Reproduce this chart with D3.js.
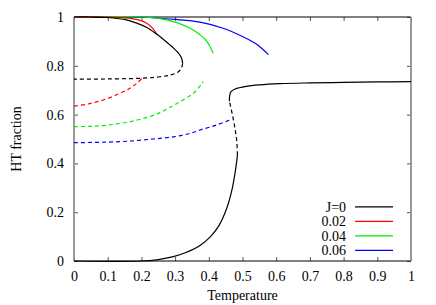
<!DOCTYPE html>
<html lang="en">
<head>
    <meta charset="UTF-8">
    <title>HT fraction</title>
    <script src="https://d3js.org/d3.v7.min.js"></script>
    <style>
        body { margin: 0; background: #fff; }
        svg text { font-family: "Liberation Serif", "DejaVu Serif", serif !important; font-size: 14px; fill: #000; }
    </style>
</head>
<body>
<div id="main"></div>
<script>
    // data: [temperature, HT fraction]
    const legendLabels = ["J=0", "0.02", "0.04", "0.06"]
    const colors = ["#000000", "#ff0000", "#00ee00", "#0000ff"]
    const xTicks = [0, 0.1, 0.2, 0.3, 0.4, 0.5, 0.6, 0.7, 0.8, 0.9, 1]
    const yTicks = [0, 0.2, 0.4, 0.6, 0.8, 1]

    // J=0
    const j0Stable = [[0, 1], [0.05, 1], [0.1, 0.998], [0.15, 0.99], [0.186, 0.975], [0.216, 0.957], [0.245, 0.93],
        [0.27, 0.903], [0.292, 0.877], [0.31, 0.852], [0.319, 0.832], [0.3225, 0.81]]
    const j0Unstable = [[0.3225, 0.81], [0.318, 0.788], [0.308, 0.774], [0.285, 0.762], [0.25, 0.754], [0.2, 0.749],
        [0.1, 0.746], [0, 0.745]]
    const j0Low = [[0, 0], [0.2, 0], [0.25, 0.006], [0.295, 0.018], [0.33, 0.034], [0.374, 0.064], [0.405, 0.1],
        [0.43, 0.145], [0.453, 0.215], [0.47, 0.3], [0.48, 0.38], [0.485, 0.434]]
    const j0Middle = [[0.485, 0.434], [0.483, 0.49], [0.478, 0.54], [0.47, 0.6], [0.461, 0.655]]
    const j0High = [[0.461, 0.655], [0.462, 0.678], [0.466, 0.694], [0.478, 0.705], [0.512, 0.716], [0.55, 0.722],
        [0.611, 0.727], [0.7, 0.73], [0.8, 0.732], [0.9, 0.734], [1, 0.735]]

    // J=0.02
    const j2Stable = [[0, 1], [0.1, 1], [0.15, 0.997], [0.186, 0.99], [0.216, 0.974], [0.235, 0.951], [0.247, 0.926]]
    const j2Unstable = [[0, 0.635], [0.04, 0.643], [0.087, 0.66], [0.136, 0.687], [0.166, 0.708], [0.186, 0.728],
        [0.206, 0.755]]

    // J=0.04
    const j4Stable = [[0, 1], [0.2, 1], [0.25, 0.994], [0.294, 0.981], [0.315, 0.972], [0.354, 0.947],
        [0.374, 0.927], [0.392, 0.904], [0.404, 0.878], [0.413, 0.851]]
    const j4Unstable = [[0, 0.551], [0.05, 0.552], [0.1, 0.557], [0.166, 0.571], [0.22, 0.59], [0.255, 0.608],
        [0.285, 0.63], [0.315, 0.653], [0.354, 0.687], [0.384, 0.735]]

    // J=0.06
    const j6Stable = [[0, 1], [0.2, 0.999], [0.3, 0.99], [0.374, 0.979], [0.44, 0.955], [0.5, 0.92], [0.54, 0.89],
        [0.56, 0.868], [0.577, 0.846]]
    const j6Unstable = [[0, 0.485], [0.136, 0.489], [0.235, 0.5], [0.3, 0.51], [0.344, 0.523], [0.374, 0.537],
        [0.42, 0.556], [0.463, 0.578]]

    let margin = {top: 17, right: 25, bottom: 44, left: 74},
        W = 436, H = 305,
        width = W - margin.left - margin.right,
        height = H - margin.top - margin.bottom;

    const serif = '"Liberation Serif", "DejaVu Serif", serif'

    let svg = d3.select("#main")
        .append("svg")
        .attr("width", W)
        .attr("height", H)

    let chart = svg.append("g")
        .attr("transform", "translate(" + margin.left + "," + margin.top + ")");

    let XScale = d3.scaleLinear().domain([0, 1]).range([0, width])
    let YScale = d3.scaleLinear().domain([0, 1]).range([height, 0])

    // axes: inward ticks on all four sides
    let fmt = d => d === 0 || d === 1 ? String(d) : d3.format(".1f")(d)

    chart.append("g").attr("transform", `translate(0, ${height})`)
        .call(d3.axisBottom(XScale).tickValues(xTicks).tickFormat(fmt).tickSizeInner(-4).tickSizeOuter(0).tickPadding(10))
        .call(g => g.select(".domain").remove())
    chart.append("g")
        .call(d3.axisTop(XScale).tickValues(xTicks).tickFormat("").tickSizeInner(-4).tickSizeOuter(0))
        .call(g => g.select(".domain").remove())
    chart.append("g")
        .call(d3.axisLeft(YScale).tickValues(yTicks).tickFormat(fmt).tickSizeInner(-4).tickSizeOuter(0).tickPadding(10))
        .call(g => g.select(".domain").remove())
    chart.append("g").attr("transform", `translate(${width}, 0)`)
        .call(d3.axisRight(YScale).tickValues(yTicks).tickFormat("").tickSizeInner(-4).tickSizeOuter(0))
        .call(g => g.select(".domain").remove())

    chart.selectAll("g").attr("font-family", serif).attr("font-size", 14)
    chart.selectAll(".tick line").attr("stroke", "#555")
    chart.selectAll(".tick text").attr("font-family", serif).attr("font-size", 14).attr("fill", "#000")

    // frame
    chart.append("line").attr("x1", 0).attr("x2", width).attr("y1", 0).attr("y2", 0).attr("stroke", "#000")
    chart.append("line").attr("x1", 0).attr("x2", width).attr("y1", height).attr("y2", height).attr("stroke", "#000")
    chart.append("line").attr("x1", 0).attr("x2", 0).attr("y1", 0).attr("y2", height)
        .attr("stroke", "#909090").attr("stroke-width", 1.8)
    chart.append("line").attr("x1", width).attr("x2", width).attr("y1", 0).attr("y2", height)
        .attr("stroke", "#909090").attr("stroke-width", 1.8)

    let line = d3.line()
        .x(d => XScale(d[0]))
        .y(d => YScale(d[1]))
        .curve(d3.curveCatmullRom.alpha(0.5))

    let curves = [
        {data: j6Stable, c: 3, dash: null},
        {data: j6Unstable, c: 3, dash: "4,3"},
        {data: j4Stable, c: 2, dash: null},
        {data: j4Unstable, c: 2, dash: "4,3"},
        {data: j2Stable, c: 1, dash: null},
        {data: j2Unstable, c: 1, dash: "4,3"},
        {data: j0Stable, c: 0, dash: null},
        {data: j0Unstable, c: 0, dash: "4,3"},
        {data: j0Low, c: 0, dash: null},
        {data: j0Middle, c: 0, dash: "4,3"},
        {data: j0High, c: 0, dash: null}
    ]

    chart.append("g").selectAll("path")
        .data(curves)
        .enter()
        .append("path")
        .attr("d", d => line(d.data))
        .attr("fill", "none")
        .attr("stroke", d => colors[d.c])
        .attr("stroke-width", 1.2)
        .attr("stroke-dasharray", d => d.dash)

    // legend
    let legend = chart.append("g")
        .attr("transform", `translate(${XScale(0.834)}, ${YScale(0.222)})`)
        .selectAll("g")
        .data(legendLabels)
        .enter()
        .append("g")
        .attr("transform", (d, i) => `translate(0, ${i * 14.5})`)

    legend.append("text")
        .attr("x", -9)
        .attr("y", 5)
        .attr("text-anchor", "end")
        .attr("font-family", serif)
        .text(d => d)

    legend.append("line")
        .attr("x1", 0).attr("x2", 38)
        .attr("y1", 0).attr("y2", 0)
        .attr("stroke", (d, i) => colors[i])
        .attr("stroke-width", 1.2)

    // axis titles
    svg.append("text")
        .attr("x", margin.left + width / 2)
        .attr("y", 300)
        .attr("text-anchor", "middle")
        .attr("font-family", serif)
        .text("Temperature")

    svg.append("text")
        .attr("transform", `translate(21, ${margin.top + height / 2}) rotate(-90)`)
        .attr("text-anchor", "middle")
        .attr("font-family", serif)
        .text("HT fraction")
</script>
</body>
</html>
